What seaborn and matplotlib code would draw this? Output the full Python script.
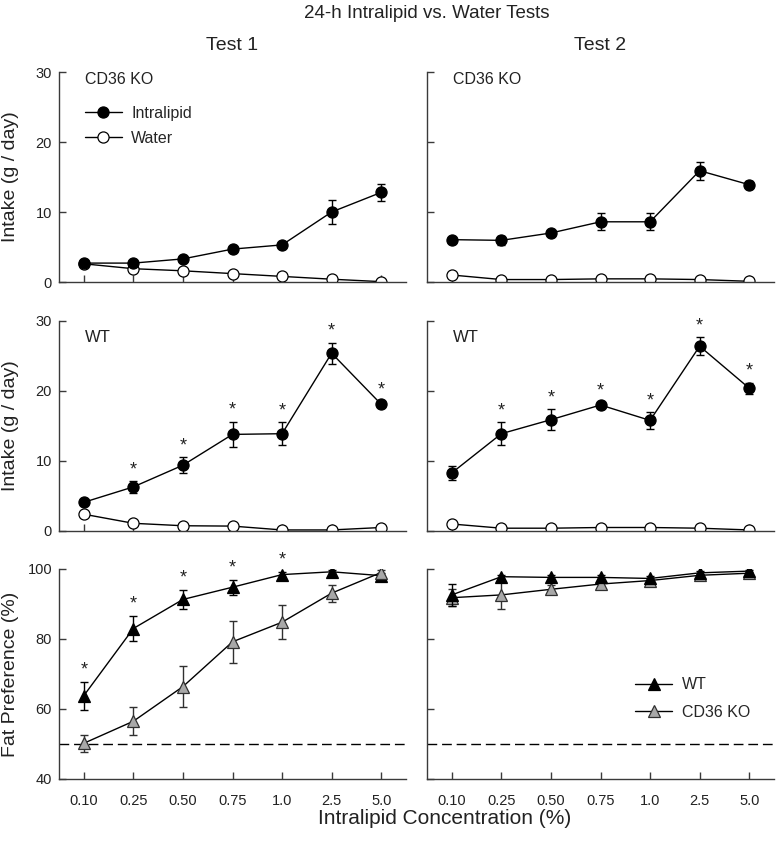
import numpy as np
import pandas as pd
import matplotlib
matplotlib.use("Agg")
import matplotlib.pyplot as plt
import seaborn as sns

# ---------------- data ----------------
conc_labels = ["0.10", "0.25", "0.50", "0.75", "1.0", "2.5", "5.0"]

# Intake (g/day) - CD36 KO
t1_ko_lipid = [2.7, 2.7, 3.3, 4.7, 5.3, 10.0, 12.8]
t1_ko_lipid_sem = [0.3, 0.3, 0.3, 0.3, 0.4, 1.7, 1.2]
t1_ko_water = [2.6, 1.9, 1.6, 1.2, 0.8, 0.4, 0.05]
t1_ko_water_sem = [0.2, 0.2, 0.2, 0.2, 0.2, 0.2, 0.1]

t2_ko_lipid = [6.05, 5.95, 7.0, 8.6, 8.6, 15.9, 13.9]
t2_ko_lipid_sem = [0.4, 0.6, 0.4, 1.2, 1.2, 1.3, 0.5]
t2_ko_water = [1.0, 0.35, 0.35, 0.45, 0.45, 0.35, 0.1]
t2_ko_water_sem = [0.2, 0.1, 0.1, 0.1, 0.1, 0.1, 0.1]

# Intake (g/day) - WT
t1_wt_lipid = [4.1, 6.3, 9.4, 13.8, 13.9, 25.4, 18.1]
t1_wt_lipid_sem = [0.4, 0.8, 1.1, 1.8, 1.6, 1.5, 0.4]
t1_wt_water = [2.4, 1.1, 0.75, 0.7, 0.15, 0.15, 0.5]
t1_wt_water_sem = [0.3, 0.2, 0.2, 0.2, 0.1, 0.1, 0.1]
t1_wt_stars = [False, True, True, True, True, True, True]

t2_wt_lipid = [8.3, 13.9, 15.9, 18.0, 15.8, 26.4, 20.4]
t2_wt_lipid_sem = [1.0, 1.6, 1.5, 0.4, 1.2, 1.3, 0.8]
t2_wt_water = [1.0, 0.4, 0.4, 0.5, 0.5, 0.4, 0.15]
t2_wt_water_sem = [0.2, 0.1, 0.1, 0.1, 0.1, 0.1, 0.1]
t2_wt_stars = [False, True, True, True, True, True, True]

# Fat preference (%)
t1_pref_wt = [63.8, 83.0, 91.3, 94.8, 98.4, 99.2, 98.1]
t1_pref_wt_sem = [4.0, 3.6, 2.8, 2.1, 0.8, 0.5, 0.9]
t1_pref_ko = [50.2, 56.5, 66.4, 79.2, 84.8, 93.1, 99.0]
t1_pref_ko_sem = [2.5, 4.0, 5.9, 6.0, 4.9, 2.4, 0.8]
t1_pref_stars = [True, True, True, True, True, False, False]

t2_pref_wt = [92.6, 97.8, 97.6, 97.6, 97.3, 98.9, 99.4]
t2_pref_wt_sem = [3.1, 0.6, 0.6, 0.7, 0.7, 0.5, 0.4]
t2_pref_ko = [91.8, 92.6, 94.2, 95.7, 96.7, 98.2, 98.8]
t2_pref_ko_sem = [2.4, 4.0, 1.2, 0.6, 0.8, 0.5, 0.4]
t2_pref_stars = [False] * 7

# ---------------- style ----------------
sns.set_theme(style="ticks")
plt.rcParams["font.family"] = ["Liberation Sans", "DejaVu Sans"]
TXT = "#222222"
AX = "#3a3a3a"
GRAY = "#a8a8a8"

fig = plt.figure(figsize=(7.77, 8.58), dpi=100)

W, H = 777.0, 858.0
def rect(x0, x1, ytop, ybot):
    return [x0 / W, 1 - ybot / H, (x1 - x0) / W, (ybot - ytop) / H]

cols = [(59, 406), (427, 774)]
rows = [(72, 282), (321, 531), (569, 779)]

axes = [[fig.add_axes(rect(c[0], c[1], r[0], r[1])) for c in cols] for r in rows]

x = np.arange(len(conc_labels))

def series(ax, y, yerr, marker, face, edge, ecol, label, z):
    df = pd.DataFrame({"x": x, "y": y})
    ax.errorbar(x, y, yerr=yerr, fmt="none", ecolor=ecol, elinewidth=1.0,
                capsize=3, capthick=1.0, zorder=z)
    sns.lineplot(data=df, x="x", y="y", ax=ax, color="black", linewidth=1.0,
                 marker=marker, markersize=8 if marker == "o" else 8.5,
                 markerfacecolor=face, markeredgecolor=edge, markeredgewidth=0.9,
                 label=label, legend=False, zorder=z + 0.5)
    return ax.lines[-1]

def stars(ax, y, yerr, flags, off=5):
    for i, f in enumerate(flags):
        if f:
            ax.annotate("*", xy=(x[i], y[i] + yerr[i]), xytext=(0, off),
                        textcoords="offset points", ha="center", va="baseline",
                        fontsize=13, color=TXT)

def style(ax, ylim, yticks, left_labels, bottom_labels):
    ax.set_xlim(-0.5, 6.5)
    ax.set_ylim(*ylim)
    ax.set_yticks(yticks)
    ax.set_xticks(x)
    ax.set_xticklabels(conc_labels if bottom_labels else [])
    if not left_labels:
        ax.set_yticklabels([])
    for s in ["top", "right"]:
        ax.spines[s].set_visible(False)
    for s in ["left", "bottom"]:
        ax.spines[s].set_color(AX)
        ax.spines[s].set_linewidth(1.0)
    ax.tick_params(axis="both", direction="in", length=5, width=1.0, color=AX,
                   labelsize=10.5, labelcolor=TXT)
    ax.tick_params(axis="x", pad=10.5)
    ax.tick_params(axis="y", pad=5)
    ax.set_xlabel("")
    ax.set_ylabel("")

# ---- Top row: CD36 KO intake ----
for j, (lip, lip_s, wat, wat_s) in enumerate([
        (t1_ko_lipid, t1_ko_lipid_sem, t1_ko_water, t1_ko_water_sem),
        (t2_ko_lipid, t2_ko_lipid_sem, t2_ko_water, t2_ko_water_sem)]):
    ax = axes[0][j]
    hw = series(ax, wat, wat_s, "o", "white", "black", "black", "Water", 2)
    hl = series(ax, lip, lip_s, "o", "black", "black", "black", "Intralipid", 3)
    style(ax, (0, 30), [0, 10, 20, 30], j == 0, False)
    ax.text(0.03, 29.0, "CD36 KO", fontsize=11.5, color=TXT, ha="left", va="center")
    if j == 0:
        ax.legend(handles=[hl, hw], labels=["Intralipid", "Water"],
                  loc="upper left", bbox_to_anchor=(0.075, 0.84), frameon=False,
                  fontsize=11.5, handlelength=2.3, handletextpad=0.6,
                  labelspacing=0.62, borderpad=0, borderaxespad=0)

# ---- Middle row: WT intake ----
for j, (lip, lip_s, wat, wat_s, st) in enumerate([
        (t1_wt_lipid, t1_wt_lipid_sem, t1_wt_water, t1_wt_water_sem, t1_wt_stars),
        (t2_wt_lipid, t2_wt_lipid_sem, t2_wt_water, t2_wt_water_sem, t2_wt_stars)]):
    ax = axes[1][j]
    series(ax, wat, wat_s, "o", "white", "black", "black", "Water", 2)
    series(ax, lip, lip_s, "o", "black", "black", "black", "Intralipid", 3)
    stars(ax, lip, lip_s, st)
    style(ax, (0, 30), [0, 10, 20, 30], j == 0, False)
    ax.text(0.03, 27.7, "WT", fontsize=12, color=TXT, ha="left", va="center")

# ---- Bottom row: preference ----
for j, (wt, wt_s, ko, ko_s, st) in enumerate([
        (t1_pref_wt, t1_pref_wt_sem, t1_pref_ko, t1_pref_ko_sem, t1_pref_stars),
        (t2_pref_wt, t2_pref_wt_sem, t2_pref_ko, t2_pref_ko_sem, t2_pref_stars)]):
    ax = axes[2][j]
    ax.axhline(50, color="black", linewidth=1.0, linestyle=(0, (7, 3.5)), zorder=1)
    if j == 0:
        hwt = series(ax, wt, wt_s, "^", "black", "black", "black", "WT", 2)
        hko = series(ax, ko, ko_s, "^", GRAY, "#303030", "#303030", "CD36 KO", 3)
    else:
        hko = series(ax, ko, ko_s, "^", GRAY, "#303030", "#303030", "CD36 KO", 2)
        hwt = series(ax, wt, wt_s, "^", "black", "black", "black", "WT", 3)
    stars(ax, wt, wt_s, st)
    style(ax, (40, 100), [40, 60, 80, 100], j == 0, True)
    if j == 1:
        ax.legend(handles=[hwt, hko], labels=["WT", "CD36 KO"],
                  loc="upper left", bbox_to_anchor=(0.60, 0.485), frameon=False,
                  fontsize=11.5, handlelength=2.3, handletextpad=0.6,
                  labelspacing=0.8, borderpad=0, borderaxespad=0)

# ---------------- figure text ----------------
fig.text(427 / W, 1 - 14 / H, "24-h Intralipid vs. Water Tests", ha="center",
         va="center", fontsize=13.5, color=TXT)
fig.text(232.5 / W, 1 - 45 / H, "Test 1", ha="center", va="center",
         fontsize=14, color=TXT)
fig.text(600.5 / W, 1 - 45 / H, "Test 2", ha="center", va="center",
         fontsize=14, color=TXT)
for yc, lab in [(177, "Intake (g / day)"), (426, "Intake (g / day)"),
                (674, "Fat Preference (%)")]:
    fig.text(11 / W, 1 - yc / H, lab, rotation=90, ha="center", va="center",
             fontsize=14, color=TXT)
fig.text(445 / W, 1 - 818 / H, "Intralipid Concentration (%)", ha="center",
         va="center", fontsize=15, color=TXT)

fig.savefig("out.png", dpi=100)
